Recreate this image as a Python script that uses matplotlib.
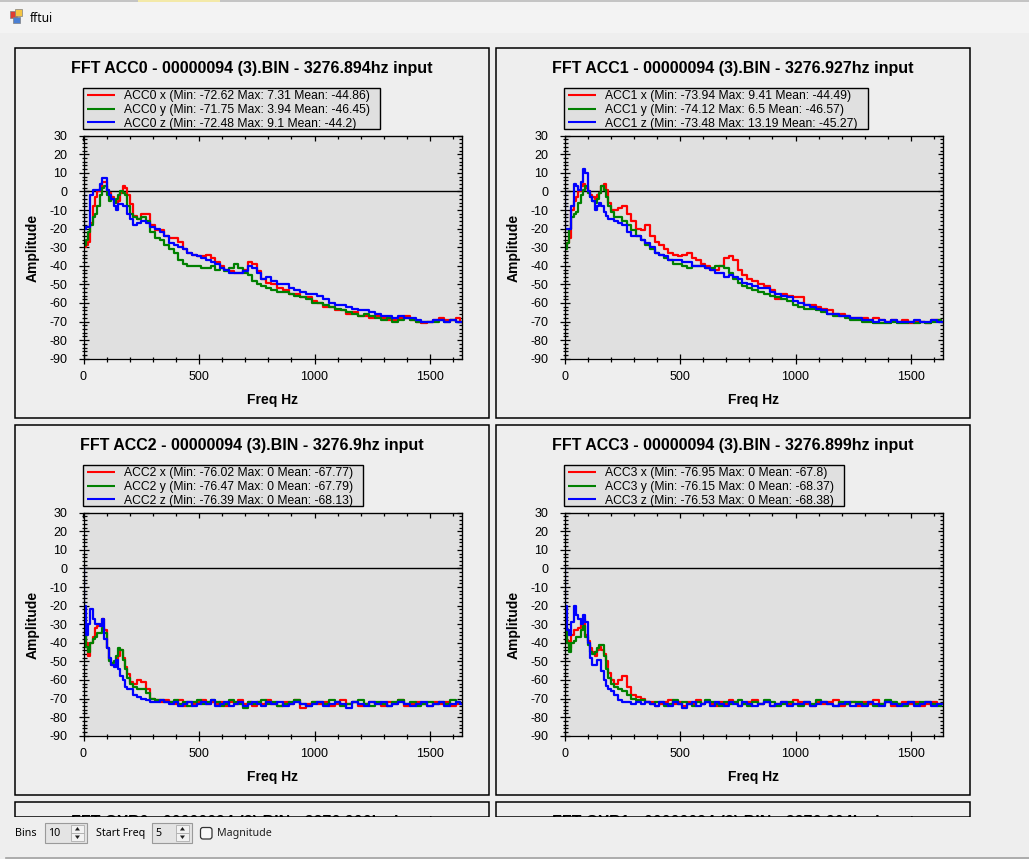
import numpy as np
import matplotlib.pyplot as plt
from matplotlib.patches import Rectangle, FancyBboxPatch, Polygon
from matplotlib.ticker import MultipleLocator

plt.rcParams['font.family'] = ['Liberation Sans', 'DejaVu Sans']
plt.rcParams['axes.unicode_minus'] = False

# frequency bins (Hz), shared by every trace
freq = [0, 5, 15, 25, 35, 45, 55, 65, 75, 85,
        95, 105, 115, 125, 135, 145, 155, 165, 175, 185,
        195, 205, 220, 240, 260, 280, 300, 320, 340, 360,
        380, 400, 420, 440, 460, 480, 500, 520, 540, 560,
        580, 600, 620, 640, 660, 680, 700, 720, 740, 760,
        780, 800, 825, 850, 875, 900, 925, 950, 975, 1000,
        1025, 1050, 1075, 1100, 1125, 1150, 1175, 1200, 1225, 1250,
        1275, 1300, 1325, 1350, 1375, 1400, 1425, 1450, 1475, 1500,
        1525, 1550, 1575, 1600, 1625, 1638]

# ACC0
acc0_x = [-30, -30, -29, -27, -17, -8, -3, 0, 2, 5,
          5, 1, -1, -3, -5, -6, -5, -1, 3, 2,
          -2, -7, -13, -15, -12, -12, -18, -21, -21, -24,
          -25, -25, -27, -31, -33, -34, -35, -35, -34, -36,
          -38, -40, -42, -43, -44, -44, -42, -38, -39, -43,
          -47, -49, -50, -52, -53, -55, -55, -57, -57, -59,
          -60, -62, -62, -64, -64, -66, -65, -67, -67, -68,
          -67, -68, -69, -69, -68, -67, -69, -70, -71, -70,
          -69, -68, -69, -69, -68, -70]
acc0_y = [-30, -29, -26, -22, -18, -14, -12, -8, -2, 2,
          3, -2, -5, -4, -6, -4, -2, 0, -1, -2,
          -8, -12, -14, -15, -14, -16, -22, -25, -26, -29,
          -31, -33, -37, -39, -40, -40, -40, -41, -41, -40,
          -42, -41, -43, -41, -39, -41, -44, -45, -48, -50,
          -51, -52, -53, -54, -54, -55, -56, -57, -58, -60,
          -60, -61, -62, -63, -64, -65, -66, -67, -66, -67,
          -68, -69, -68, -70, -69, -68, -69, -70, -70, -70,
          -70, -69, -70, -69, -70, -70]
acc0_z = [0, -20, -19, -19, -2, 1, 1, 1, 4, 7,
          7, 1, -2, -4, -8, -10, -7, -7, -8, -8,
          -12, -15, -18, -17, -16, -17, -19, -20, -22, -24,
          -28, -29, -30, -31, -33, -34, -35, -36, -37, -38,
          -39, -41, -42, -44, -44, -44, -43, -40, -41, -44,
          -47, -46, -48, -50, -50, -52, -53, -54, -55, -55,
          -56, -58, -60, -61, -61, -62, -63, -64, -64, -65,
          -66, -67, -67, -68, -67, -68, -68, -69, -70, -70,
          -69, -69, -70, -69, -70, -70]

# ACC1
acc1_x = [-30, -29, -28, -25, -10, -5, -3, 0, 3, 4,
          2, 0, -2, -3, -4, -2, -1, 3, 4, 1,
          -6, -10, -10, -9, -8, -12, -16, -20, -21, -18,
          -24, -27, -29, -31, -33, -34, -35, -34, -33, -36,
          -37, -39, -40, -42, -42, -40, -36, -35, -37, -42,
          -45, -47, -48, -50, -51, -53, -58, -55, -56, -57,
          -57, -61, -61, -62, -63, -64, -66, -66, -67, -68,
          -68, -68, -69, -68, -69, -70, -69, -70, -69, -71,
          -70, -70, -71, -69, -69, -70]
acc1_y = [-30, -31, -28, -20, -14, -12, -11, -6, -2, 1,
          3, -1, -3, -5, -6, -4, -1, 3, 1, -3,
          -8, -11, -14, -14, -16, -18, -21, -24, -26, -29,
          -31, -33, -34, -36, -37, -39, -39, -40, -41, -40,
          -40, -40, -41, -41, -40, -40, -41, -44, -47, -49,
          -51, -52, -53, -54, -55, -56, -57, -58, -59, -61,
          -62, -63, -63, -64, -65, -66, -67, -67, -68, -69,
          -69, -70, -70, -71, -71, -71, -70, -71, -71, -70,
          -71, -70, -71, -70, -69, -70]
acc1_z = [0, -20, -20, -20, -8, 4, 3, 1, 5, 12,
          10, 0, -3, -5, -10, -8, -6, -8, -11, -13,
          -15, -15, -16, -17, -18, -22, -24, -24, -26, -28,
          -30, -33, -34, -35, -37, -37, -37, -38, -38, -40,
          -40, -40, -41, -42, -44, -44, -46, -45, -46, -47,
          -49, -50, -51, -52, -52, -54, -55, -56, -57, -59,
          -60, -61, -62, -63, -64, -66, -66, -67, -67, -68,
          -68, -69, -69, -70, -69, -70, -69, -70, -70, -70,
          -69, -70, -70, -69, -70, -70]

# ACC2
acc2_x = [-31, -33, -40, -47, -40, -37, -32, -31, -31, -27,
          -33, -43, -49, -52, -52, -49, -47, -44, -48, -53,
          -57, -61, -62, -60, -61, -65, -70, -71, -72, -71,
          -72, -73, -71, -74, -72, -73, -72, -71, -73, -72,
          -73, -72, -74, -72, -73, -71, -73, -72, -74, -72,
          -73, -71, -73, -74, -72, -73, -71, -75, -73, -72,
          -73, -72, -74, -73, -71, -73, -72, -74, -73, -72,
          -73, -74, -72, -73, -71, -74, -73, -72, -73, -74,
          -72, -73, -72, -74, -73, -73]
acc2_y = [-35, -30, -42, -45, -40, -38, -37, -35, -35, -32,
          -35, -43, -50, -51, -50, -47, -43, -44, -49, -54,
          -59, -62, -64, -65, -65, -67, -70, -71, -71, -72,
          -72, -71, -73, -72, -74, -72, -71, -73, -72, -71,
          -72, -74, -73, -71, -72, -73, -75, -72, -73, -72,
          -71, -73, -72, -74, -73, -72, -71, -73, -74, -72,
          -72, -73, -71, -72, -74, -73, -72, -71, -73, -74,
          -72, -73, -74, -72, -71, -73, -72, -74, -73, -72,
          -73, -72, -73, -71, -72, -73]
acc2_z = [0, -20, -36, -30, -22, -27, -30, -30, -31, -27,
          -38, -43, -48, -52, -53, -49, -54, -58, -60, -64,
          -65, -65, -68, -69, -70, -71, -72, -72, -71, -72,
          -73, -72, -74, -73, -72, -74, -73, -72, -73, -71,
          -74, -73, -72, -74, -73, -72, -74, -73, -72, -73,
          -74, -72, -73, -72, -74, -73, -72, -73, -74, -73,
          -72, -74, -73, -72, -73, -75, -72, -73, -74, -72,
          -73, -72, -74, -73, -72, -73, -74, -73, -72, -74,
          -73, -72, -74, -73, -72, -73]

# ACC3
acc3_x = [-35, -33, -39, -43, -36, -33, -33, -32, -30, -27,
          -36, -39, -43, -45, -47, -44, -42, -44, -46, -50,
          -56, -60, -62, -60, -58, -64, -68, -69, -70, -72,
          -72, -74, -73, -72, -71, -73, -72, -74, -72, -73,
          -71, -73, -72, -73, -74, -72, -73, -71, -72, -74,
          -73, -72, -71, -73, -72, -74, -73, -72, -73, -71,
          -72, -73, -74, -72, -73, -72, -71, -74, -73, -72,
          -74, -72, -73, -71, -73, -72, -74, -73, -72, -73,
          -72, -74, -73, -72, -73, -73]
acc3_y = [-30, -32, -40, -45, -40, -39, -37, -37, -33, -31,
          -37, -41, -45, -46, -45, -43, -41, -41, -47, -54,
          -59, -62, -64, -65, -66, -68, -70, -71, -71, -72,
          -73, -72, -72, -74, -73, -71, -73, -72, -73, -74,
          -72, -73, -71, -72, -73, -74, -72, -73, -72, -71,
          -73, -74, -72, -73, -71, -72, -74, -73, -72, -73,
          -74, -72, -73, -71, -72, -73, -74, -72, -73, -72,
          -72, -73, -72, -74, -73, -71, -72, -73, -74, -72,
          -73, -72, -72, -73, -74, -73]
acc3_z = [0, -20, -33, -36, -29, -20, -25, -27, -30, -25,
          -29, -40, -48, -52, -52, -49, -49, -55, -60, -63,
          -65, -66, -68, -71, -72, -72, -73, -72, -73, -72,
          -73, -74, -72, -73, -74, -72, -73, -75, -73, -72,
          -74, -73, -72, -74, -72, -73, -74, -72, -73, -74,
          -72, -73, -74, -73, -72, -74, -73, -72, -74, -73,
          -73, -72, -74, -73, -72, -73, -74, -73, -72, -74,
          -73, -74, -72, -73, -74, -72, -73, -74, -73, -72,
          -74, -73, -72, -74, -73, -73]

sensors = ['ACC0', 'ACC1', 'ACC2', 'ACC3']
rates = ['3276.894', '3276.927', '3276.9', '3276.899']
traces = [[acc0_x, acc0_y, acc0_z], [acc1_x, acc1_y, acc1_z],
          [acc2_x, acc2_y, acc2_z], [acc3_x, acc3_y, acc3_z]]
# (min, max, mean) per axis, as shown in the legends
stats = [[('-72.62', '7.31', '-44.86'), ('-71.75', '3.94', '-46.45'), ('-72.48', '9.1', '-44.2')],
         [('-73.94', '9.41', '-44.49'), ('-74.12', '6.5', '-46.57'), ('-73.48', '13.19', '-45.27')],
         [('-76.02', '0', '-67.77'), ('-76.47', '0', '-67.79'), ('-76.39', '0', '-68.13')],
         [('-76.95', '0', '-67.8'), ('-76.15', '0', '-68.37'), ('-76.53', '0', '-68.38')]]
axes_names = ['x', 'y', 'z']
colors = ['#ff0000', '#008000', '#0000ff']
hidden_titles = ['FFT GYR0 - 00000094 (3).BIN - 3276.906hz input',
                 'FFT GYR1 - 00000094 (3).BIN - 3276.904hz input']

W, H = 1029, 859
fig = plt.figure(figsize=(W / 100, H / 100), dpi=100)
fig.patch.set_facecolor('#eeeeee')


def rect(x0, y0, x1, y1):
    return [x0 / W, 1 - y1 / H, (x1 - x0) / W, (y1 - y0) / H]


bg = fig.add_axes([0, 0, 1, 1])
bg.set_xlim(0, W)
bg.set_ylim(H, 0)
bg.axis('off')
bg.set_zorder(0)
renderer = fig.canvas.get_renderer()

# window title bar
bg.add_patch(Rectangle((0, 0), W, 33, fc='#f3f3f3', ec='none'))
bg.add_patch(Rectangle((0, 0), W, 2, fc='#c4c4c4', ec='none'))
bg.add_patch(Rectangle((138, 0), 82, 2, fc='#f3e9a8', ec='none'))
bg.add_patch(Rectangle((10, 11), 7, 7, fc='#e03c31', ec='#808080', lw=0.5))
bg.add_patch(Rectangle((15, 9), 7, 7, fc='#f5c542', ec='#808080', lw=0.5))
bg.add_patch(Rectangle((13, 17), 7, 6, fc='#4a7fd4', ec='#808080', lw=0.5))
bg.text(30, 21.5, 'fftui', fontsize=8.6, family=['Noto Sans', 'DejaVu Sans'], va='baseline')

PW, PH = 474, 370
origins = [(15, 48), (496, 48), (15, 425), (496, 425)]

for i, (px0, py0) in enumerate(origins):
    bg.add_patch(Rectangle((px0, py0), PW, PH, fill=False, ec='black', lw=1.1))
    bg.text(px0 + PW / 2, py0 + 25.3,
            f'FFT {sensors[i]} - 00000094 (3).BIN - {rates[i]}hz input',
            ha='center', va='baseline', fontsize=11.5, fontweight='bold')
    bg.text(px0 + 17.7, py0 + 199.5, 'Amplitude', rotation=90, ha='center', va='center',
            fontsize=10, fontweight='bold')
    bg.text(px0 + 257.5, py0 + 356, 'Freq Hz', ha='center', va='baseline',
            fontsize=10, fontweight='bold')

    # legend
    labels = [f'{sensors[i]} {axes_names[k]} (Min: {stats[i][k][0]} Max: {stats[i][k][1]} Mean: {stats[i][k][2]})'
              for k in range(3)]
    texts = [bg.text(px0 + 109, py0 + 51.3 + k * 13.7, labels[k], fontsize=8.75,
                     va='baseline', zorder=3) for k in range(3)]
    wmax = max(t.get_window_extent(renderer).width for t in texts)
    bg.add_patch(Rectangle((px0 + 68, py0 + 39.7), 109 + wmax + 10 - 68, 41.3,
                           fc='#e0e0e0', ec='black', lw=1.0, zorder=2))
    for k in range(3):
        yy = py0 + 51.3 - 4.5 + k * 13.7
        bg.plot([px0 + 72.3, px0 + 100], [yy, yy], color=colors[k], lw=1.5,
                solid_capstyle='butt', zorder=3)

    ax = fig.add_axes(rect(px0 + 68.5, py0 + 87.7, px0 + 447, py0 + 310.7))
    ax.set_zorder(1)
    ax.set_facecolor('#e0e0e0')
    for k in range(3):
        ax.plot(freq, traces[i][k], color=colors[k], lw=1.6, drawstyle='steps-mid')
    ax.axhline(0, color='black', lw=1.0, zorder=0.5)
    ax.set_xlim(0, float(rates[i]) / 2)
    ax.set_ylim(-90, 30)
    ax.xaxis.set_major_locator(MultipleLocator(500))
    ax.xaxis.set_minor_locator(MultipleLocator(100))
    ax.yaxis.set_major_locator(MultipleLocator(10))
    ax.yaxis.set_minor_locator(MultipleLocator(2))
    ax.tick_params(which='major', direction='inout', length=7.5, width=0.9, labelsize=9)
    ax.tick_params(which='minor', direction='inout', length=3.6, width=0.9)
    ax.tick_params(axis='x', which='major', pad=4.8)
    ax.tick_params(axis='y', which='major', pad=8)
    for s in ax.spines.values():
        s.set_linewidth(0.9)

    top = ax.secondary_xaxis('top')
    top.xaxis.set_major_locator(MultipleLocator(500))
    top.xaxis.set_minor_locator(MultipleLocator(100))
    top.tick_params(which='major', direction='in', length=3.6, width=0.9, labeltop=False)
    top.tick_params(which='minor', direction='in', length=2.2, width=0.9)
    right = ax.secondary_yaxis('right')
    right.yaxis.set_major_locator(MultipleLocator(10))
    right.yaxis.set_minor_locator(MultipleLocator(2))
    right.tick_params(which='major', direction='in', length=3.6, width=0.9, labelright=False)
    right.tick_params(which='minor', direction='in', length=2.2, width=0.9)

# the next row of panels, cut off by the control bar
for j, px0 in enumerate([15, 496]):
    bg.add_patch(Rectangle((px0, 802), PW, 15, fill=False, ec='black', lw=1.1))
    t = bg.text(px0 + PW / 2, 802 + 25.3, hidden_titles[j], ha='center', va='baseline',
                fontsize=11.5, fontweight='bold')
    clip = Rectangle((px0, 802), PW, 15, transform=bg.transData)
    t.set_clip_path(clip)
    t.set_clip_on(True)

# control bar at the bottom
fg = fig.add_axes([0, 0, 1, 1])
fg.set_xlim(0, W)
fg.set_ylim(H, 0)
fg.axis('off')
fg.set_zorder(5)
fg.add_patch(Rectangle((0, 817), W, 40, fc='#eeeeee', ec='none'))
fg.plot([6, W], [857.5, 857.5], color='#a0a0a0', lw=1.2)
ui = dict(fontsize=7.7, family=['Noto Sans', 'DejaVu Sans'], va='baseline')
fg.text(14.5, 836, 'Bins', **ui)
fg.text(95.5, 836, 'Start Freq', **ui)
fg.text(217.5, 836, 'Magnitude', color='#202020', **ui)
for (x0, x1, val) in [(45, 87.3, '10'), (152, 192.3, '5')]:
    fg.add_patch(Rectangle((x0, 823.3), x1 - x0, 19.4, fc='#e4e4e4', ec='#9a9a9a', lw=0.8))
    fg.text(x0 + 3, 836, val, **ui)
    bx = x1 - 16
    fg.add_patch(Rectangle((bx, 824.7), 12.3, 8.2, fc='#f2f2f2', ec='#adadad', lw=0.6))
    fg.add_patch(Rectangle((bx, 833.1), 12.3, 8.2, fc='#f2f2f2', ec='#adadad', lw=0.6))
    cx = bx + 6.15
    fg.add_patch(Polygon([(cx - 2.5, 830.5), (cx + 2.5, 830.5), (cx, 827)], fc='#202020', ec='none'))
    fg.add_patch(Polygon([(cx - 2.5, 835.5), (cx + 2.5, 835.5), (cx, 839)], fc='#202020', ec='none'))
fg.add_patch(FancyBboxPatch((200.5, 827.5), 11.5, 11.5, boxstyle='round,pad=0,rounding_size=2.5',
                            fc='#f8f8f8', ec='#333333', lw=0.9))

fig.savefig('out.png', dpi=100, facecolor=fig.get_facecolor())
